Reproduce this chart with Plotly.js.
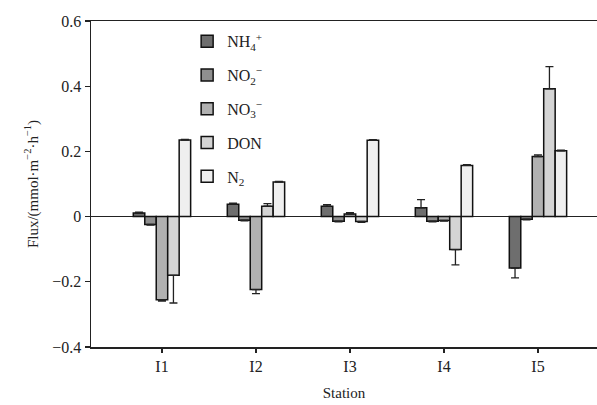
<!DOCTYPE html>
<html>
<head>
<meta charset="utf-8">
<script src="https://cdn.plot.ly/plotly-3.0.1.min.js"></script>
<style>html,body{margin:0;padding:0;background:#fff;}#chart{width:597px;height:405px;}</style>
</head>
<body>
<div id="chart"></div>
<script>
const stations = ["I1", "I2", "I3", "I4", "I5"];
const seriesNames = ["NH<sub>4</sub><sup>+</sup>", "NO<sub>2</sub><sup>−</sup>", "NO<sub>3</sub><sup>−</sup>", "DON", "N<sub>2</sub>"];
const nh4 = [0.011, 0.038, 0.032, 0.027, -0.158];
const no2 = [-0.024, -0.011, -0.014, -0.014, -0.008];
const no3 = [-0.255, -0.224, 0.008, -0.012, 0.184];
const don = [-0.180, 0.032, -0.015, -0.101, 0.392];
const n2 = [0.235, 0.106, 0.234, 0.157, 0.202];
const nh4Err = [0.003, 0.003, 0.005, 0.025, 0.030];
const no2Err = [0.002, 0.002, 0.002, 0.002, 0.002];
const no3Err = [0.004, 0.012, 0.004, 0.002, 0.005];
const donErr = [0.085, 0.008, 0.003, 0.047, 0.068];
const n2Err = [0.002, 0.002, 0.002, 0.002, 0.002];
const colors = ["#6e6e6e", "#8f8f8f", "#b1b1b1", "#d4d4d4", "#efefef"];

const values = [nh4, no2, no3, don, n2];
const errs = [nh4Err, no2Err, no3Err, donErr, n2Err];

const traces = values.map((v, i) => ({
  type: "bar",
  name: seriesNames[i],
  x: stations,
  y: v,
  legendgroup: "g" + i,
  marker: {color: colors[i], line: {color: "#111", width: 1.5}},
  error_y: {
    type: "data",
    symmetric: false,
    array: v.map((val, j) => val >= 0 ? errs[i][j] : 0),
    arrayminus: v.map((val, j) => val < 0 ? errs[i][j] : 0),
    color: "#222",
    thickness: 1.3,
    width: 4
  }
}));

const font = {family: "Liberation Serif, Times New Roman, serif", color: "#222"};

const layout = {
  width: 597, height: 405,
  margin: {l: 91, r: 0, t: 21, b: 58},
  paper_bgcolor: "#fff", plot_bgcolor: "#fff",
  font: Object.assign({size: 16}, font),
  barmode: "group",
  bargap: 0.39,
  bargroupgap: 0,
  showlegend: true,
  legend: {
    x: 0.19, y: 0.99, xanchor: "left", yanchor: "top",
    bgcolor: "rgba(0,0,0,0)",
    font: Object.assign({size: 16}, font),
    tracegroupgap: 10,
    traceorder: "grouped"
  },
  xaxis: {
    type: "category",
    range: [-0.755, 4.628],
    showline: true, linecolor: "#222", linewidth: 1.5,
    mirror: true,
    ticks: "outside", ticklen: 4, tickwidth: 1.3, tickcolor: "#222",
    showgrid: false, zeroline: false,
    tickfont: Object.assign({size: 16}, font),
    title: {text: "Station", font: Object.assign({size: 15}, font), standoff: 14}
  },
  yaxis: {
    range: [-0.4, 0.6],
    tickvals: [-0.4, -0.2, 0, 0.2, 0.4, 0.6],
    ticktext: ["−0.4", "−0.2", "0", "0.2", "0.4", "0.6"],
    showline: true, linecolor: "#222", linewidth: 1.5,
    ticks: "outside", ticklen: 5, tickwidth: 1.3, tickcolor: "#222",
    showgrid: false,
    zeroline: true, zerolinecolor: "#222", zerolinewidth: 1.3,
    tickfont: Object.assign({size: 16}, font),
    title: {text: "Flux/(mmol·m<sup>−2</sup>·h<sup>−1</sup>)", font: Object.assign({size: 15}, font), standoff: 10}
  }
};

Plotly.newPlot("chart", traces, layout, {displayModeBar: false, staticPlot: true});
</script>
</body>
</html>
